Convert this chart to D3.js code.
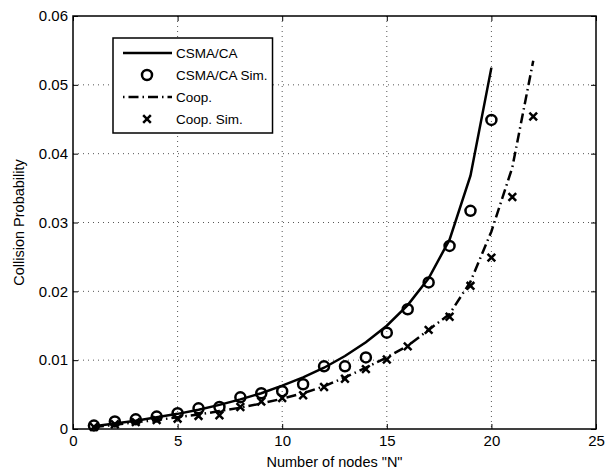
<!DOCTYPE html>
<html>
<head>
<meta charset="utf-8">
<script src="https://cdn.jsdelivr.net/npm/d3@7"></script>
<style>
  body { margin: 0; background: #fff; }
  text { font-family: "Liberation Sans", Arial, sans-serif; }
</style>
</head>
<body>
<div id="chart"></div>
<script>
// analytic curves, N = 1..20 and 1..22
var csmaN = d3.range(1, 21);
var csmaVals = [0.0004, 0.0008, 0.0012, 0.0017, 0.0022, 0.0028, 0.0035, 0.0043, 0.0052, 0.0063,
                0.0075, 0.0089, 0.0106, 0.0126, 0.015, 0.018, 0.0219, 0.0275, 0.0368, 0.0525];
var csmaSim = [0.0005, 0.0011, 0.0014, 0.0018, 0.0023, 0.003, 0.0032, 0.0046, 0.0052, 0.0055,
               0.0065, 0.0091, 0.0091, 0.0104, 0.014, 0.0174, 0.0213, 0.0266, 0.0317, 0.0449];
var coopN = d3.range(1, 23);
var coopVals = [0.0003, 0.0006, 0.001, 0.0013, 0.0017, 0.0021, 0.0026, 0.0031, 0.0037, 0.0044,
                0.0052, 0.0062, 0.0075, 0.0089, 0.0104, 0.0121, 0.0144, 0.0167, 0.0214, 0.0287, 0.038, 0.0535];
var coopSim = [0.0003, 0.0007, 0.001, 0.0013, 0.0015, 0.0019, 0.002, 0.0032, 0.004, 0.0045,
               0.0049, 0.0061, 0.0073, 0.0087, 0.0101, 0.012, 0.0144, 0.0163, 0.0208, 0.0249, 0.0337, 0.0454];

var xTicks = [0, 5, 10, 15, 20, 25];
var yTicks = [0, 0.01, 0.02, 0.03, 0.04, 0.05, 0.06];
var legendLabels = ["CSMA/CA", "CSMA/CA Sim.", "Coop.", "Coop. Sim."];

var margin = {top: 16, right: 20, bottom: 42, left: 73},
    width = 616 - margin.left - margin.right,
    height = 471 - margin.top - margin.bottom;

var svg = d3.select("#chart").append("svg")
    .attr("width", 616)
    .attr("height", 471)
    .append("g")
    .attr("transform", "translate(" + margin.left + "," + margin.top + ")");

var x = d3.scaleLinear().domain([0, 25]).range([0, width]);
var y = d3.scaleLinear().domain([0, 0.06]).range([height, 0]);

// grid
svg.append("g")
    .selectAll("line.gx")
    .data(xTicks.slice(1, -1))
    .enter().append("line")
    .attr("x1", d => x(d)).attr("x2", d => x(d))
    .attr("y1", 0).attr("y2", height)
    .attr("stroke", "#555").attr("stroke-width", 1)
    .attr("stroke-dasharray", "1,4");
svg.append("g")
    .selectAll("line.gy")
    .data(yTicks.slice(1, -1))
    .enter().append("line")
    .attr("x1", 0).attr("x2", width)
    .attr("y1", d => y(d)).attr("y2", d => y(d))
    .attr("stroke", "#555").attr("stroke-width", 1)
    .attr("stroke-dasharray", "1,4");

// axes, ticks pointing inward on all sides
var fmtY = d => d === 0 ? "0" : d3.format(".2f")(d);
svg.append("g").attr("transform", "translate(0," + height + ")")
    .call(d3.axisBottom(x).tickValues(xTicks).tickSize(-5).tickPadding(6).tickFormat(d3.format("d")));
svg.append("g")
    .call(d3.axisLeft(y).tickValues(yTicks).tickSize(-5).tickPadding(5).tickFormat(fmtY));
svg.append("g")
    .call(d3.axisTop(x).tickValues(xTicks).tickSize(-5).tickFormat(""));
svg.append("g").attr("transform", "translate(" + width + ",0)")
    .call(d3.axisRight(y).tickValues(yTicks).tickSize(-5).tickFormat(""));
svg.selectAll(".domain").remove();
svg.selectAll(".tick line").attr("stroke", "#000");
svg.selectAll(".tick text").style("font-size", "15px").attr("fill", "#000")
    .style("font-family", "'Liberation Sans', Arial, sans-serif");

svg.append("rect")
    .attr("width", width).attr("height", height)
    .attr("fill", "none").attr("stroke", "#000").attr("stroke-width", 1.5);

// axis labels
svg.append("text")
    .attr("x", width / 2).attr("y", height + 38)
    .style("text-anchor", "middle").style("font-size", "14.5px")
    .text("Number of nodes \"N\"");
svg.append("text")
    .attr("transform", "rotate(-90)")
    .attr("x", -height / 2).attr("y", -49)
    .style("text-anchor", "middle").style("font-size", "14.5px")
    .text("Collision Probability");

var line = d3.line().x(d => x(d[0])).y(d => y(d[1]));

svg.append("path")
    .datum(csmaN.map((n, i) => [n, csmaVals[i]]))
    .attr("d", line)
    .attr("fill", "none").attr("stroke", "#000").attr("stroke-width", 2.5);

svg.append("path")
    .datum(coopN.map((n, i) => [n, coopVals[i]]))
    .attr("d", line)
    .attr("fill", "none").attr("stroke", "#000").attr("stroke-width", 2.5)
    .attr("stroke-dasharray", "10,4,1.5,4");

svg.append("g").selectAll("circle")
    .data(csmaN.map((n, i) => [n, csmaSim[i]]))
    .enter().append("circle")
    .attr("cx", d => x(d[0])).attr("cy", d => y(d[1]))
    .attr("r", 5)
    .attr("fill", "none").attr("stroke", "#000").attr("stroke-width", 2.5);

var cross = d3.symbol().type(d3.symbolX).size(40);
svg.append("g").selectAll("path.xm")
    .data(coopN.map((n, i) => [n, coopSim[i]]))
    .enter().append("path")
    .attr("transform", d => "translate(" + x(d[0]) + "," + y(d[1]) + ")")
    .attr("d", cross)
    .attr("fill", "none").attr("stroke", "#000").attr("stroke-width", 2.5);

// legend
var lg = svg.append("g").attr("transform", "translate(40,22)");
var box = lg.append("rect")
    .attr("width", 152).attr("height", 95)
    .attr("fill", "#fff").attr("stroke", "#000").attr("stroke-width", 1.5);
var rowY = [15, 37, 59, 81];
lg.append("line").attr("x1", 10).attr("x2", 59).attr("y1", rowY[0]).attr("y2", rowY[0])
    .attr("stroke", "#000").attr("stroke-width", 2.5);
lg.append("circle").attr("cx", 34).attr("cy", rowY[1]).attr("r", 5)
    .attr("fill", "none").attr("stroke", "#000").attr("stroke-width", 2.5);
lg.append("line").attr("x1", 10).attr("x2", 59).attr("y1", rowY[2]).attr("y2", rowY[2])
    .attr("stroke", "#000").attr("stroke-width", 2.5).attr("stroke-dasharray", "1.5,4,10,4");
lg.append("path").attr("transform", "translate(34," + rowY[3] + ")").attr("d", cross)
    .attr("fill", "none").attr("stroke", "#000").attr("stroke-width", 2.5);
var lt = lg.selectAll("text.lt")
    .data(legendLabels)
    .enter().append("text")
    .attr("x", 63).attr("y", (d, i) => rowY[i]).attr("dy", "0.35em")
    .style("font-size", "13.5px")
    .text(d => d);
var maxW = d3.max(lt.nodes(), n => n.getComputedTextLength());
box.attr("width", Math.max(152, 63 + maxW + 5));
</script>
</body>
</html>
